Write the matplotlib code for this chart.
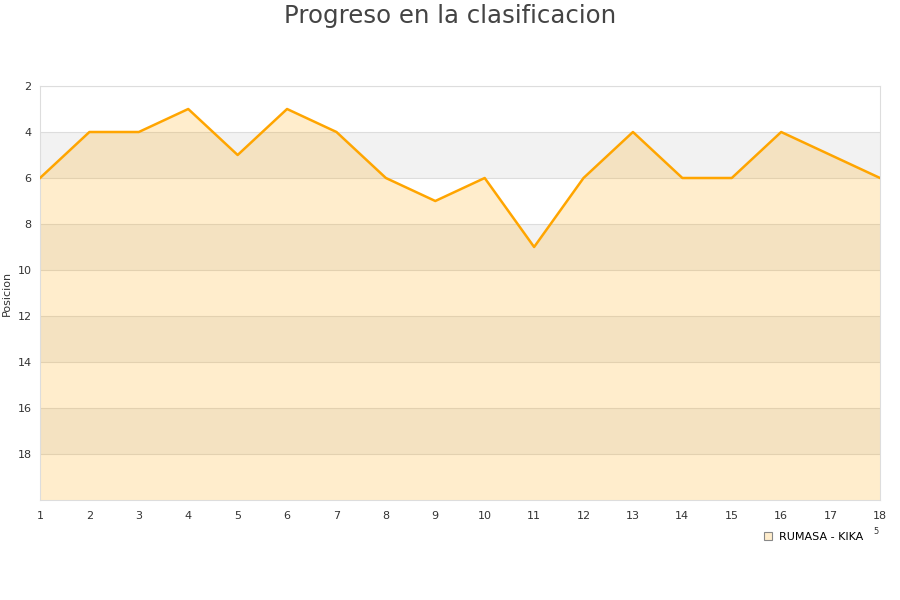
import matplotlib
matplotlib.use("Agg")
import matplotlib.pyplot as plt
from matplotlib.lines import Line2D

jornadas = list(range(1, 19))
posiciones = [6, 4, 4, 3, 5, 3, 4, 6, 7, 6, 9, 6, 4, 6, 6, 4, 5, 6]
serie = "RUMASA - KIKA"
yticks = [2, 4, 6, 8, 10, 12, 14, 16, 18]

fig = plt.figure(figsize=(9, 6), dpi=100)
ax = fig.add_axes([40/900, 1-500/600, 840/900, 414/600])

ax.set_xlim(1, 18)
ax.set_ylim(20, 2)

# alternating bands
for lo in [4, 8, 12, 16]:
    ax.axhspan(lo, lo + 2, color="#f2f2f2", zorder=0, lw=0)
for t in yticks:
    ax.axhline(t, color="#dddddd", lw=0.8, zorder=1)

ax.fill_between(jornadas, posiciones, 20, color="#ffa500", alpha=0.2, lw=0, zorder=2)
ax.plot(jornadas, posiciones, color="#ffa500", lw=1.8, zorder=3)

ax.set_xticks(jornadas)
ax.set_yticks(yticks)
ax.tick_params(axis="x", length=0, labelsize=8, colors="#333333", pad=8)
ax.tick_params(axis="y", length=0, labelsize=8, colors="#333333", pad=6)
for s in ax.spines.values():
    s.set_color("#dddddd")
    s.set_linewidth(0.8)
ax.set_ylabel("Posicion", fontsize=8, color="#333333", labelpad=4)

fig.text(0.5, 1-16/600, "Progreso en la clasificacion", ha="center", va="center",
         fontsize=17.6, color="#444444")

handle = Line2D([], [], marker="s", ls="none", markersize=6,
                markerfacecolor="#ffedcc", markeredgecolor="#888888", markeredgewidth=0.8)
fig.legend([handle], [serie], loc="center", bbox_to_anchor=(813/900, 1-537/600),
           frameon=False, fontsize=8, handletextpad=0.5, handlelength=1)
fig.text(876/900, 1-532/600, "5", fontsize=6, color="#333333", ha="center", va="center")

fig.savefig("out.png", dpi=100)
